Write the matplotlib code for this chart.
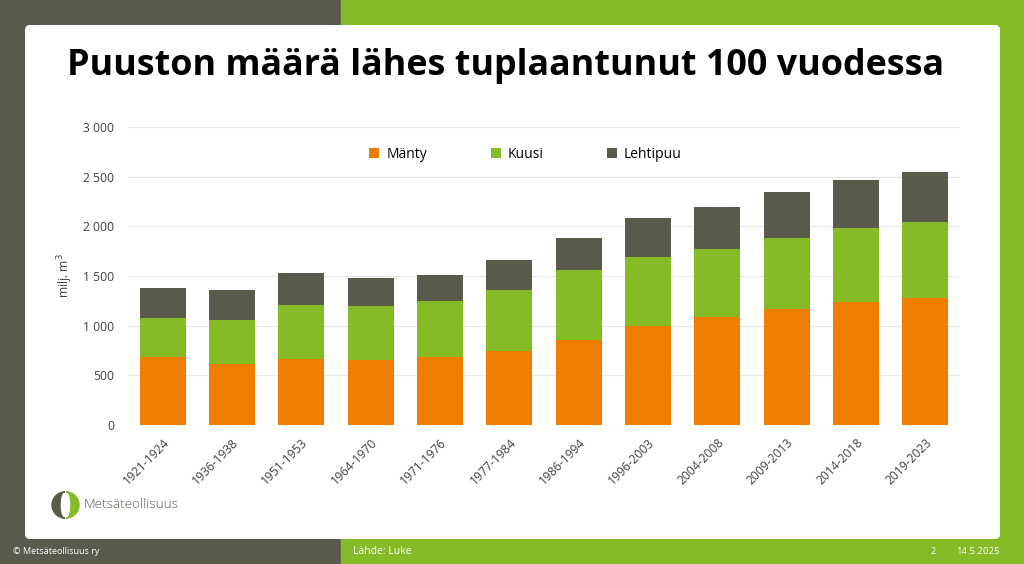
import numpy as np
import matplotlib.pyplot as plt
from matplotlib.patches import Rectangle, FancyBboxPatch, Polygon

# values (milj. m3)
periods = ['1921-1924', '1936-1938', '1951-1953', '1964-1970', '1971-1976', '1977-1984',
           '1986-1994', '1996-2003', '2004-2008', '2009-2013', '2014-2018', '2019-2023']
manty = [680, 612, 663, 650, 680, 741, 859, 997, 1091, 1168, 1236, 1283]
kuusi = [397, 445, 549, 552, 570, 619, 701, 697, 677, 711, 747, 761]
lehtipuu = [300, 307, 316, 276, 265, 297, 326, 394, 431, 471, 488, 505]
yticks = [0, 500, 1000, 1500, 2000, 2500, 3000]

DARK = '#5a5a4a'
GREEN = '#84bb26'
ORANGE = '#ef7d00'
W, H = 1024, 564

plt.rcParams['font.family'] = ['Open Sans', 'DejaVu Sans']

fig = plt.figure(figsize=(W / 100, H / 100), dpi=100)

# slide background in pixel coordinates
bg = fig.add_axes([0, 0, 1, 1])
bg.set_xlim(0, W)
bg.set_ylim(H, 0)
bg.axis('off')
bg.add_patch(Rectangle((0, 0), 341, H, color=DARK))
bg.add_patch(Rectangle((341, 0), W - 341, H, color=GREEN))
bg.add_patch(FancyBboxPatch((28, 28), 969, 508, boxstyle='round,pad=3,rounding_size=5',
                            facecolor='white', edgecolor='none'))

bg.text(506, 66, 'Puuston määrä lähes tuplaantunut 100 vuodessa', ha='center', va='center',
        fontsize=25.8, fontweight='bold', color='black')

# logo: two crescents around a white lens
t = np.linspace(-np.pi / 2, np.pi / 2, 60)
cx, cy, r = 65, 505, 13
left = np.column_stack([np.r_[cx - r * np.cos(t), cx - 1 - 4 * np.cos(t[::-1])],
                        np.r_[cy + r * np.sin(t), cy + r * np.sin(t[::-1])]])
right = np.column_stack([np.r_[cx + 1 + r * np.cos(t), cx + 2 + 4 * np.cos(t[::-1])],
                         np.r_[cy + r * np.sin(t), cy + r * np.sin(t[::-1])]])
bg.add_patch(Polygon(left, closed=True, color=DARK))
bg.add_patch(Polygon(right, closed=True, color=GREEN))
bg.text(84, 505, 'Metsäteollisuus', ha='left', va='center', fontsize=9.7, color=DARK,
        fontweight='light')

# footer
bg.text(13, 551, '© Metsäteollisuus ry', ha='left', va='center', fontsize=6.5, color='white')
bg.text(353, 551, 'Lähde: Luke', ha='left', va='center', fontsize=7.5, color='white')
bg.text(931, 551, '2', ha='left', va='center', fontsize=6.5, color='white')
bg.text(1000, 551, '14.5.2025', ha='right', va='center', fontsize=6.8, color='white')

# chart
ax = fig.add_axes([128 / W, (H - 425) / H, (960 - 128) / W, (425 - 127) / H])
x = np.arange(len(periods))
bottom2 = np.array(manty) + np.array(kuusi)
ax.bar(x, manty, width=0.66, color=ORANGE, label='Mänty', zorder=3)
ax.bar(x, kuusi, width=0.66, bottom=manty, color=GREEN, label='Kuusi', zorder=3)
ax.bar(x, lehtipuu, width=0.66, bottom=bottom2, color=DARK, label='Lehtipuu', zorder=3)

ax.set_xlim(-0.5, len(periods) - 0.5)
ax.set_ylim(0, 3000)
ax.set_yticks(yticks)
ax.set_yticklabels([f'{v:,}'.replace(',', ' ') for v in yticks], fontsize=8.7, color='#404040')
ax.set_xticks(x)
ax.set_xticklabels(periods, rotation=45, ha='right', rotation_mode='anchor', fontsize=8.7,
                   color='#404040')
ax.tick_params(length=0, pad=8)
ax.tick_params(axis='y', pad=10)
ax.grid(axis='y', color='#e8e8e8', linewidth=0.8, zorder=0)
for s in ax.spines.values():
    s.set_visible(False)
ax.set_ylabel('milj. m$^3$', fontsize=8.7, color='#404040', labelpad=6)

ax.legend(loc='upper center', bbox_to_anchor=(0.478, 0.975), ncol=3, frameon=False,
          fontsize=10, handlelength=0.7, handleheight=0.7, handletextpad=0.5,
          columnspacing=4.6)

fig.savefig('out.png', dpi=100)
